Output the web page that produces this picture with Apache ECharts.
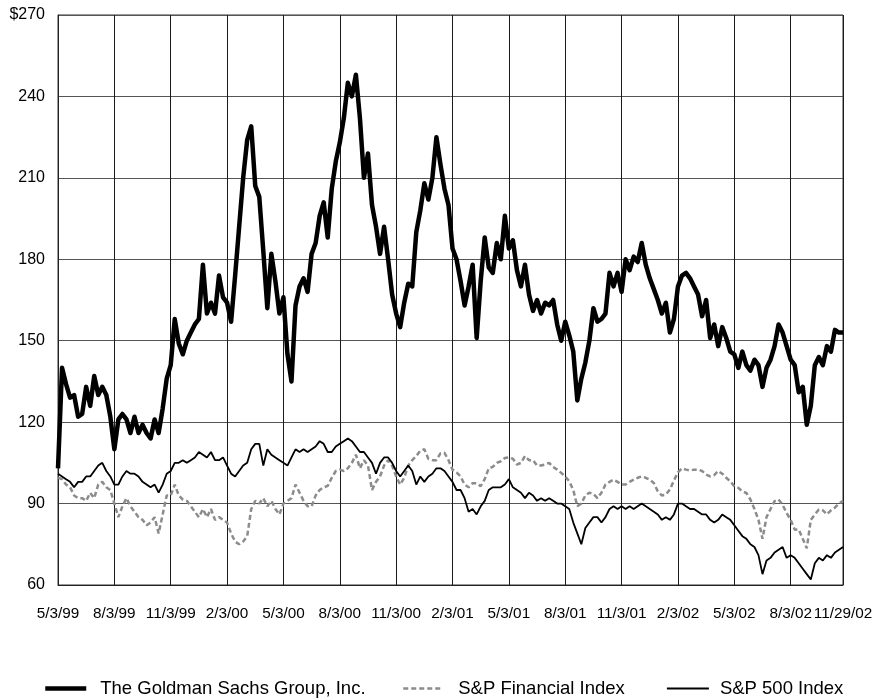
<!DOCTYPE html>
<html>
<head>
<meta charset="utf-8">
<script src="https://cdn.jsdelivr.net/npm/echarts@6/dist/echarts.min.js"></script>
<style>
  html, body { margin: 0; padding: 0; background: #fff; }
  #chart { width: 878px; height: 698px; }
</style>
</head>
<body>
<div id="chart"></div>
<script>
// weekly points, 5/3/99 .. 11/29/02 (indexed by week)
var tickIndex = [0, 14, 28, 42, 56, 70, 84, 98, 112, 126, 140, 154, 168, 182, 195];
var tickLabels = ['5/3/99', '8/3/99', '11/3/99', '2/3/00', '5/3/00', '8/3/00', '11/3/00',
    '2/3/01', '5/3/01', '8/3/01', '11/3/01', '2/3/02', '5/3/02', '8/3/02', '11/29/02'];

var goldman = [
    103, 140, 134, 129, 130, 122, 123, 133, 126, 137,
    130, 133, 130, 122, 110, 121, 123, 121, 116, 122,
    116, 119, 116, 114, 121, 116, 125, 136, 141, 158,
    149, 145, 150, 153, 156, 158, 178, 160, 164, 160,
    174, 166, 164, 157, 174, 192, 210, 224, 229, 207,
    203, 183, 162, 182, 172, 160, 166, 145, 135, 163,
    170, 173, 168, 182, 186, 196, 201, 188, 206, 216,
    223, 232, 245, 240, 248, 232, 210, 219, 200, 192,
    182, 192, 180, 167, 160, 155, 164, 171, 170, 190,
    198, 208, 202, 210, 225, 215, 206, 200, 184, 180,
    172, 163, 170, 178, 151, 172, 188, 177, 175, 186,
    180, 196, 184, 187, 176, 170, 178, 167, 161, 165,
    160, 164, 163, 165, 156, 150, 157, 152, 146, 128,
    136, 142, 150, 162, 157, 158, 160, 175, 170, 175,
    168, 180, 176, 181, 179, 186, 178, 173, 169, 165,
    160, 164, 153, 158, 170, 174, 175, 173, 170, 167,
    159, 165, 151, 156, 148, 155, 151, 146, 145, 140,
    146, 141, 139, 143, 141, 133, 140, 143, 148, 156,
    153, 148, 143, 141, 131, 133, 119, 126, 141, 144,
    141, 148, 146, 154, 153, 153
];

var financial = [
    99.5, 99, 97, 96, 93, 92, 92, 91, 94, 92,
    97, 98, 96, 95, 90, 85, 89, 92, 89, 87,
    85, 84, 82, 83, 85, 79, 86, 93, 93, 97,
    93, 91.5, 91, 89, 87, 85, 88, 85, 88, 84,
    85, 84, 83, 79, 76, 75, 76, 78, 88, 91,
    90, 92, 89, 91, 88, 86, 90, 91, 92, 97,
    94, 91, 89, 89, 93, 95, 96, 96.5, 99.5, 102,
    102.5, 102, 103, 105, 108, 103, 106, 104, 95, 98,
    100, 104, 106, 104, 100, 97, 99.5, 104, 106, 107.5,
    109.5, 110, 106.5, 106, 106, 108.5, 108.7, 106, 102.5, 101.5,
    100, 97, 96, 97.5, 97.5, 96.4, 99, 103, 103.5, 105,
    105.6, 106.8, 107, 106.5, 104.4, 105, 107.5, 106, 106, 104,
    104, 104.4, 105, 103.5, 102.5, 101.3, 100, 98.2, 95, 89,
    90, 93, 94, 93.5, 92, 94, 97, 98, 98.8, 98,
    97, 97, 98, 98.8, 99.5, 100, 99.5, 98.8, 97.6, 94.5,
    93, 93.3, 95.2, 98.5, 101.5, 103, 102.5, 102.2, 102.5, 102.5,
    102, 100.7, 100, 100.5, 102, 101, 99.5, 98.2, 96.4, 95.8,
    94.5, 93.9, 91.5, 88, 84, 77, 85, 88, 90.9, 91.5,
    89.5, 86.5, 84, 80.4, 80.5, 77, 73.5, 84, 86, 87.8,
    87.5, 86, 87.5, 88.5, 90, 91
];

var sp500 = [
    101, 100, 99, 98, 96, 98, 98, 100, 100, 102,
    104, 105, 102, 100, 97, 97, 100, 102, 101, 101,
    100, 98, 97, 96, 97, 94, 97, 101, 102, 105,
    105, 106, 105, 106, 107, 109, 108, 107, 109, 106,
    106, 107, 104, 101, 100, 102, 104, 105, 110, 112,
    112, 104, 110, 108, 107, 106, 105, 104, 107, 110,
    109, 110, 109, 110, 111, 113, 112, 109, 109, 111,
    112, 113, 114, 113, 111, 109, 109, 107, 105, 101,
    105, 107, 107, 105, 102, 100, 102, 104, 102, 97,
    100, 98, 100, 101, 103, 103, 102, 100, 98, 95,
    95, 92, 87, 88, 86, 89, 91, 95, 96, 96,
    96, 97, 99, 96, 95, 94, 92, 94, 93, 91,
    92, 91, 92, 91, 90, 90, 89, 88, 83, 79,
    75, 81, 83, 85, 85, 83, 85, 88, 89, 88,
    89, 88, 89, 88, 89, 90, 89, 88, 87, 86,
    84, 85, 84, 86, 90, 90, 89, 88, 88, 87,
    86, 86, 84, 83, 84, 86, 85, 84, 82, 80,
    78, 77, 75, 74, 71, 64, 69, 70, 72, 73,
    74, 70, 71, 70, 68, 66, 64, 62, 68, 70,
    69, 71, 70, 72, 73, 74
];

var weeks = goldman.map(function (v, i) { return String(i); });
var font = 'Liberation Sans, Arial, Helvetica, sans-serif';

function isTick(i) { return tickIndex.indexOf(i) >= 0; }

function legendAt(name, left, width, gap, line) {
    return {
        data: [name],
        left: left, top: 679, padding: 0,
        itemWidth: width, itemHeight: 16,
        itemStyle: { opacity: 0 },
        lineStyle: line,
        textStyle: { fontFamily: font, fontSize: 18.5, color: '#000', padding: [0, 0, 0, gap] }
    };
}

var option = {
    animation: false,
    backgroundColor: '#fff',
    grid: {
        left: 58, right: 35, top: 15, bottom: 113,
        show: true, borderColor: '#333', borderWidth: 1
    },
    legend: [
        legendAt('The Goldman Sachs Group, Inc.', 43, 41, 9, { color: '#000', width: 4.5 }),
        legendAt('S&P Financial Index', 402, 39, 11, { color: '#8c8c8c', width: 2.5, type: [5, 3] }),
        legendAt('S&P 500 Index', 666, 42, 6, { color: '#000', width: 1.8 })
    ],
    xAxis: {
        type: 'category',
        data: weeks,
        boundaryGap: false,
        axisLine: { show: true, lineStyle: { color: '#222', width: 1 } },
        axisTick: { show: false },
        axisLabel: {
            interval: function (i) { return isTick(i); },
            formatter: function (v, i) { return tickLabels[tickIndex.indexOf(i)]; },
            showMaxLabel: true,
            hideOverlap: false,
            margin: 21,
            fontFamily: font,
            fontSize: 15.3,
            color: '#000'
        },
        splitLine: {
            show: true,
            interval: function (i) { return isTick(i); },
            lineStyle: { color: '#1a1a1a', width: 1 }
        }
    },
    yAxis: {
        type: 'value',
        min: 60,
        max: 270,
        interval: 30,
        axisLine: { show: true, lineStyle: { color: '#222' } },
        axisTick: { show: false },
        axisLabel: {
            margin: 13,
            fontFamily: font,
            fontSize: 16,
            color: '#000',
            formatter: function (v) { return v === 270 ? '$270' : String(v); }
        },
        splitLine: { show: true, lineStyle: { color: '#555', width: 1 } }
    },
    series: [
        {
            name: 'S&P Financial Index',
            type: 'line',
            data: financial,
            symbol: 'none',
            lineStyle: { color: '#8c8c8c', width: 2.5, type: [5, 3] },
            itemStyle: { color: '#8c8c8c' },
            z: 2
        },
        {
            name: 'S&P 500 Index',
            type: 'line',
            data: sp500,
            symbol: 'none',
            lineStyle: { color: '#000', width: 1.8 },
            itemStyle: { color: '#000' },
            z: 3
        },
        {
            name: 'The Goldman Sachs Group, Inc.',
            type: 'line',
            data: goldman,
            symbol: 'none',
            lineStyle: { color: '#000', width: 4.5, join: 'round' },
            itemStyle: { color: '#000' },
            z: 4
        }
    ]
};

var myChart = echarts.init(document.getElementById('chart'));
myChart.setOption(option);
</script>
</body>
</html>
